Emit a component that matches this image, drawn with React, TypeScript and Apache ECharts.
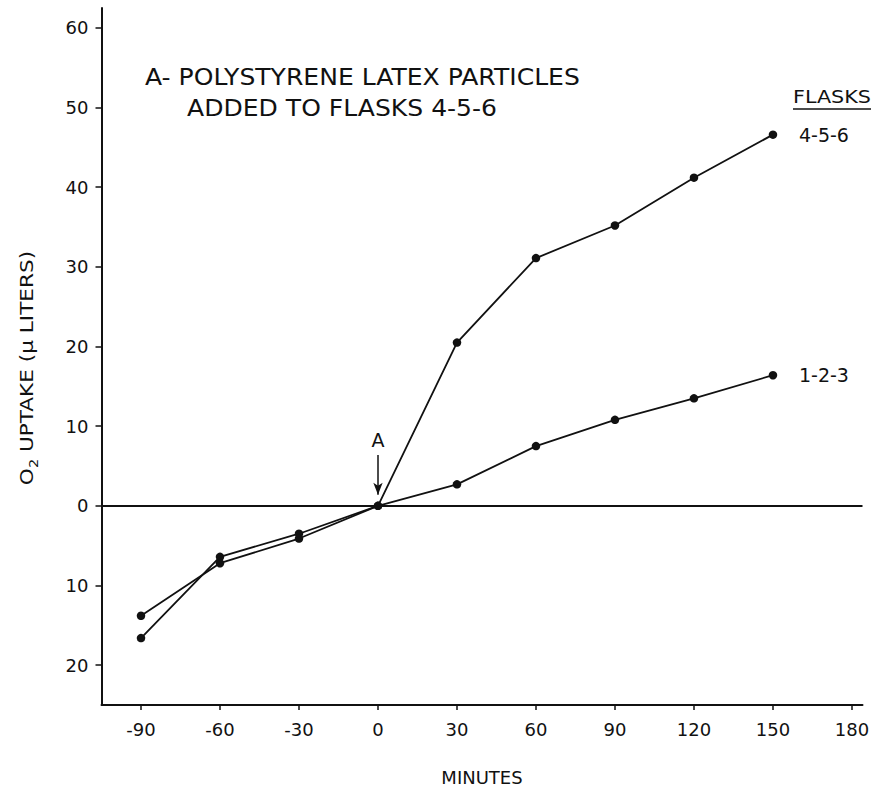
import React, { useEffect, useRef } from "react";
import * as echarts from "echarts";

const minutes = [-90, -60, -30, 0, 30, 60, 90, 120, 150];
const flasks456 = [-16.6, -6.4, -3.5, 0, 20.5, 31.1, 35.2, 41.2, 46.6];
const flasks123 = [-13.8, -7.2, -4.1, 0, 2.7, 7.5, 10.8, 13.5, 16.4];
const xTicks = [-90, -60, -30, 0, 30, 60, 90, 120, 150, 180];
const yTicks = [-20, -10, 0, 10, 20, 30, 40, 50, 60];
const seriesNames = ["4-5-6", "1-2-3"];
const arrowFromTo = [6.4, 1.4];

const FONT = "DejaVu Sans";
const INK = "#111";

export default function App() {
  const ref = useRef<HTMLDivElement>(null);
  useEffect(() => {
    document.body.style.margin = "0";
    const chart = echarts.init(ref.current!, null, { renderer: "svg" });
    const pts = (ys: number[]) => minutes.map((m, i) => [m, ys[i]]);
    const baseSeries = {
      type: "line",
      symbol: "circle",
      symbolSize: 8.5,
      showSymbol: true,
      lineStyle: { color: INK, width: 1.8 },
      itemStyle: { color: INK },
      endLabel: {
        show: true,
        formatter: "{a}",
        distance: 26,
        color: INK,
        fontFamily: FONT,
        fontSize: 19,
      },
      z: 3,
    };
    const label = (text: string, x: number, y: number, size: number, sx: number, extra: any = {}) => ({
      type: "text",
      x,
      y,
      scaleX: sx,
      style: {
        text,
        font: `${size}px "${FONT}"`,
        fill: INK,
        verticalAlign: "middle",
        textVerticalAlign: "middle",
        ...extra,
      },
    });
    chart.setOption({
      animation: false,
      backgroundColor: "#fff",
      textStyle: { fontFamily: FONT, color: INK },
      grid: { left: 101.5, right: 10.5, top: 8, bottom: 83, containLabel: false },
      xAxis: {
        type: "value",
        min: -105,
        max: 184,
        name: "MINUTES",
        nameLocation: "middle",
        nameGap: 63,
        nameTextStyle: { fontFamily: FONT, fontSize: 18, color: INK },
        axisLine: { onZero: false, lineStyle: { color: INK, width: 2 } },
        axisTick: { show: true, customValues: xTicks, length: 5, lineStyle: { color: INK, width: 1.5 } },
        axisLabel: { customValues: xTicks, margin: 15, fontFamily: FONT, fontSize: 18, color: INK },
        splitLine: { show: false },
      },
      yAxis: {
        type: "value",
        min: -25,
        max: 62.5,
        axisLine: { onZero: false, lineStyle: { color: INK, width: 2 } },
        axisTick: { show: true, customValues: yTicks, length: 6, lineStyle: { color: INK, width: 1.5 } },
        axisLabel: {
          customValues: yTicks,
          margin: 13,
          fontFamily: FONT,
          fontSize: 18,
          color: INK,
          formatter: (v: number) => String(Math.abs(v)),
        },
        splitLine: { show: false },
      },
      graphic: [
        label("A- POLYSTYRENE LATEX PARTICLES", 145, 77, 23, 1.09),
        label("ADDED TO FLASKS 4-5-6", 187, 108, 23, 1.09),
        label("FLASKS", 793, 97, 18, 1.15),
        {
          type: "line",
          shape: { x1: 793, y1: 109, x2: 871, y2: 109 },
          style: { stroke: INK, lineWidth: 1.5 },
        },
        {
          type: "text",
          x: 27,
          y: 368,
          rotation: Math.PI / 2,
          scaleX: 1.2,
          style: {
            text: "{o|O}{s|2}{t| UPTAKE (μ LITERS)}",
            fill: INK,
            align: "center",
            textAlign: "center",
            verticalAlign: "middle",
            textVerticalAlign: "middle",
            rich: {
              o: { fontFamily: FONT, fontSize: 18, fill: INK, lineHeight: 26 },
              s: { fontFamily: FONT, fontSize: 12, fill: INK, lineHeight: 26, verticalAlign: "bottom" },
              t: { fontFamily: FONT, fontSize: 18, fill: INK, lineHeight: 26 },
            },
          },
        },
      ],
      series: [
        {
          ...baseSeries,
          name: seriesNames[0],
          data: pts(flasks456),
          markLine: {
            silent: true,
            symbol: ["none", "arrow"],
            symbolSize: [7, 12],
            lineStyle: { color: INK, width: 1.5, type: "solid" },
            label: {
              show: true,
              position: "start",
              formatter: "A",
              color: INK,
              fontFamily: FONT,
              fontSize: 19,
              distance: 5,
            },
            data: [[{ coord: [0, arrowFromTo[0]] }, { coord: [0, arrowFromTo[1]] }]],
          },
        },
        {
          ...baseSeries,
          name: seriesNames[1],
          data: pts(flasks123),
          markLine: {
            silent: true,
            symbol: ["none", "none"],
            lineStyle: { color: INK, width: 2, type: "solid" },
            label: { show: false },
            data: [{ yAxis: 0 }],
          },
        },
      ],
    });
    return () => chart.dispose();
  }, []);
  return (
    <div
      ref={ref}
      style={{ position: "absolute", left: 0, top: 0, width: 873, height: 791, background: "#fff" }}
    />
  );
}
